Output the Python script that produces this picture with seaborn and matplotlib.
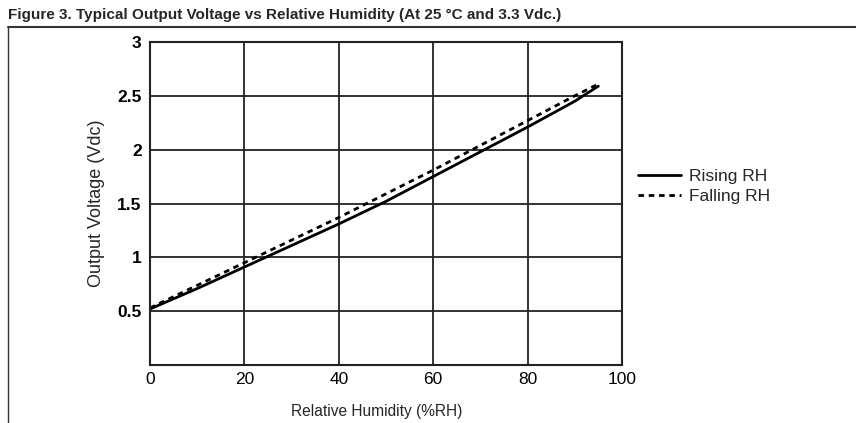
import matplotlib
matplotlib.use("Agg")
import matplotlib.pyplot as plt
from matplotlib.lines import Line2D
import seaborn as sns
import pandas as pd

# values
rh = [0, 10, 20, 30, 40, 50, 60, 70, 80, 90, 95]
rising = [0.52, 0.71, 0.91, 1.11, 1.31, 1.52, 1.75, 1.98, 2.21, 2.45, 2.59]
falling = [0.53, 0.74, 0.95, 1.16, 1.37, 1.59, 1.81, 2.04, 2.27, 2.50, 2.61]
x_ticks = [0, 20, 40, 60, 80, 100]
y_ticks = [0.5, 1, 1.5, 2, 2.5, 3]
y_labels = ['0.5', '1', '1.5', '2', '2.5', '3']

sns.set_style("white")
plt.rcParams['font.family'] = ['Liberation Sans', 'DejaVu Sans']

df = pd.DataFrame({'rh': rh, 'rising': rising, 'falling': falling})

fig = plt.figure(figsize=(8.56, 4.23), dpi=100)
ax = fig.add_axes([0.1752, 0.1371, 0.5514, 0.7636])

sns.lineplot(data=df, x='rh', y='rising', ax=ax, color='black', lw=2.0,
             label='Rising RH')
sns.lineplot(data=df, x='rh', y='falling', ax=ax, color='black', lw=2.0,
             linestyle=(0, (2.0, 1.7)), label='Falling RH')

ax.set_xlim(0, 100)
ax.set_ylim(0, 3)
ax.set_xticks(x_ticks)
ax.set_yticks(y_ticks)
ax.set_yticklabels(y_labels)
ax.grid(True, color='#222222', lw=1.3)
ax.tick_params(axis='both', length=0, labelsize=12.5, colors='black')
ax.tick_params(axis='x', pad=5)
ax.tick_params(axis='y', pad=6)
for lbl in ax.get_yticklabels():
    lbl.set_fontweight('bold')
for s in ax.spines.values():
    s.set_color('#222222')
    s.set_linewidth(1.5)

ax.set_xlabel('Relative Humidity (%RH)', fontsize=11.2, labelpad=12)
ax.xaxis.label.set_x(0.48)
ax.set_ylabel('Output Voltage (Vdc)', fontsize=13, labelpad=9)

ax.legend(loc='center left', bbox_to_anchor=(1.034, 0.553), frameon=False,
          fontsize=12.5, handlelength=2.5, handletextpad=0.45,
          labelspacing=0.25, borderpad=0, borderaxespad=0)

fig.text(0.009, 0.965, 'Figure 3. Typical Output Voltage vs Relative Humidity (At 25 °C and 3.3 Vdc.)',
         fontsize=11, fontweight='bold', ha='left', va='center')
fig.add_artist(Line2D([0.009, 1.0], [0.936, 0.936], color='#333333', lw=1.5))
fig.add_artist(Line2D([0.009, 0.009], [0.936, 0.0], color='#333333', lw=1.0))

fig.savefig('out.png', dpi=100)
